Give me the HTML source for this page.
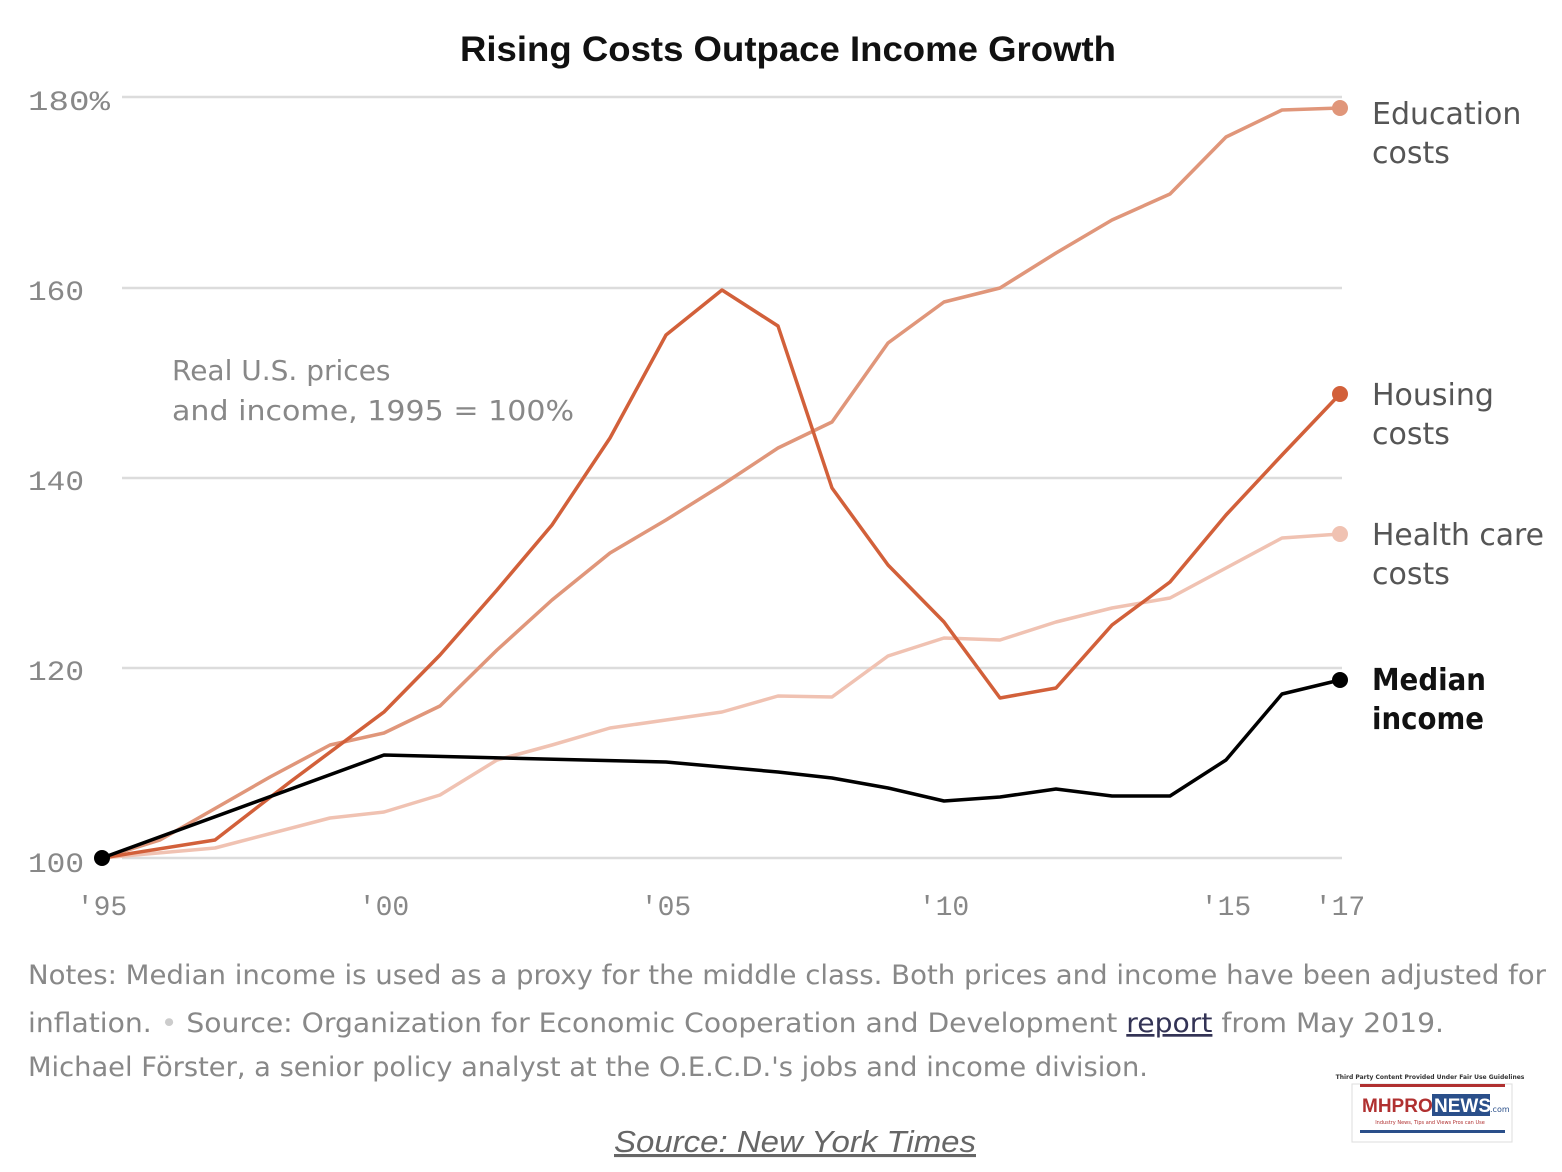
<!DOCTYPE html>
<html><head><meta charset="utf-8"><style>
body{margin:0;background:#fff;}
svg{display:block;font-family:"DejaVu Sans","Liberation Sans",sans-serif;}
</style></head><body>
<svg width="1562" height="1172" viewBox="0 0 1562 1172">
<text x="460" y="61" textLength="656" lengthAdjust="spacingAndGlyphs" font-size="35" font-weight="bold" fill="#111" font-family="Liberation Sans, sans-serif">Rising Costs Outpace Income Growth</text>
<g stroke="#dcdcdc" stroke-width="2.5">
<line x1="122" y1="97" x2="1342" y2="97"/>
<line x1="122" y1="288" x2="1342" y2="288"/>
<line x1="122" y1="478" x2="1342" y2="478"/>
<line x1="122" y1="668" x2="1342" y2="668"/>
<line x1="122" y1="858" x2="1342" y2="858"/>
</g>
<g font-size="28" fill="#888" font-family="Liberation Mono, monospace">
<text x="28" y="110" textLength="82" lengthAdjust="spacingAndGlyphs">180%</text>
<text x="28" y="300" textLength="56" lengthAdjust="spacingAndGlyphs">160</text>
<text x="28" y="490" textLength="56" lengthAdjust="spacingAndGlyphs">140</text>
<text x="28" y="680" textLength="56" lengthAdjust="spacingAndGlyphs">120</text>
<text x="28" y="872" textLength="56" lengthAdjust="spacingAndGlyphs">100</text>
<text x="102" y="915" text-anchor="middle">'95</text>
<text x="384" y="915" text-anchor="middle">'00</text>
<text x="666" y="915" text-anchor="middle">'05</text>
<text x="944" y="915" text-anchor="middle">'10</text>
<text x="1226" y="915" text-anchor="middle">'15</text>
<text x="1340" y="915" text-anchor="middle">'17</text>
</g>
<text x="172" y="380" font-size="28" fill="#888">Real U.S. prices</text>
<text x="172" y="420" font-size="28" fill="#888" textLength="402" lengthAdjust="spacingAndGlyphs">and income, 1995 = 100%</text>
<g fill="none" stroke-width="3.5" stroke-linejoin="round">
<polyline stroke="#f0c2b2" points="102,858 215,848 330,818 384,812 440,795 497,760 552,745 610,728 666,720 722,712 778,696 832,697 888,656 944,638 1000,640 1056,622 1112,608 1170,598 1226,568 1282,538 1340,534"/>
<polyline stroke="#e0967a" points="102,858 160,840 270,777 330,745 384,733 440,706 497,650 552,600 610,553 666,520 722,485 778,448 832,422 888,343 944,302 1000,288 1056,253 1112,220 1170,194 1226,137 1282,110 1340,108"/>
<polyline stroke="#d2603a" points="102,858 215,840 290,782 384,712 440,655 497,590 552,525 610,438 666,335 722,290 778,326 832,488 888,565 944,622 1000,698 1056,688 1112,625 1170,582 1226,515 1282,455 1340,394"/>
<polyline stroke="#000" points="102,858 384,755 666,762 778,772 832,778 888,788 944,801 1000,797 1056,789 1112,796 1170,796 1226,760 1282,694 1340,680"/>
</g>
<circle cx="102" cy="858" r="8" fill="#000"/>
<circle cx="1340" cy="108" r="8" fill="#e0967a"/>
<circle cx="1340" cy="394" r="8" fill="#d2603a"/>
<circle cx="1340" cy="534" r="8" fill="#f0c2b2"/>
<circle cx="1340" cy="680" r="8" fill="#000"/>
<g font-size="30" fill="#555">
<text x="1372" y="124">Education</text><text x="1372" y="163">costs</text>
<text x="1372" y="405">Housing</text><text x="1372" y="444">costs</text>
<text x="1372" y="545" textLength="172" lengthAdjust="spacingAndGlyphs">Health care</text><text x="1372" y="584">costs</text>
</g>
<g font-size="30" fill="#111" font-weight="bold">
<text x="1372" y="690" textLength="114" lengthAdjust="spacingAndGlyphs">Median</text><text x="1372" y="729" textLength="112" lengthAdjust="spacingAndGlyphs">income</text>
</g>
<g font-size="27" fill="#888">
<text x="28" y="984" textLength="1518" lengthAdjust="spacingAndGlyphs">Notes: Median income is used as a proxy for the middle class. Both prices and income have been adjusted for</text>
<text x="28" y="1032" textLength="1416" lengthAdjust="spacingAndGlyphs">inflation.  <tspan fill="#ccc">•</tspan>  Source: Organization for Economic Cooperation and Development <tspan fill="#335" text-decoration="underline">report</tspan> from May 2019.</text>
<text x="28" y="1076" textLength="1120" lengthAdjust="spacingAndGlyphs">Michael Förster, a senior policy analyst at the O.E.C.D.'s jobs and income division.</text>
</g>
<text x="614" y="1152" textLength="362" lengthAdjust="spacingAndGlyphs" font-size="31" font-style="italic" fill="#666" text-decoration="underline" font-family="Liberation Sans, sans-serif">Source: New York Times</text>
<text x="1430" y="1079" text-anchor="middle" font-size="6" font-weight="bold" fill="#333">Third Party Content Provided Under Fair Use Guidelines</text>
<rect x="1352" y="1084" width="160" height="58" fill="#fff" stroke="#ddd"/>
<rect x="1360" y="1084" width="145" height="3" fill="#b03030"/>
<text x="1362" y="1112" font-size="19" font-weight="bold" fill="#b03030" font-family="Liberation Sans, sans-serif">MHPRO</text>
<rect x="1432" y="1094" width="58" height="22" fill="#2a4f8a"/>
<text x="1434" y="1112" font-size="19" font-weight="bold" fill="#fff" font-family="Liberation Sans, sans-serif">NEWS</text>
<text x="1490" y="1112" font-size="8" fill="#2a4f8a">.com</text>
<text x="1430" y="1124" text-anchor="middle" font-size="5" fill="#b03030">Industry News, Tips and Views Pros can Use</text>
<rect x="1360" y="1130" width="145" height="3" fill="#2a4f8a"/>
</svg>
</body></html>
